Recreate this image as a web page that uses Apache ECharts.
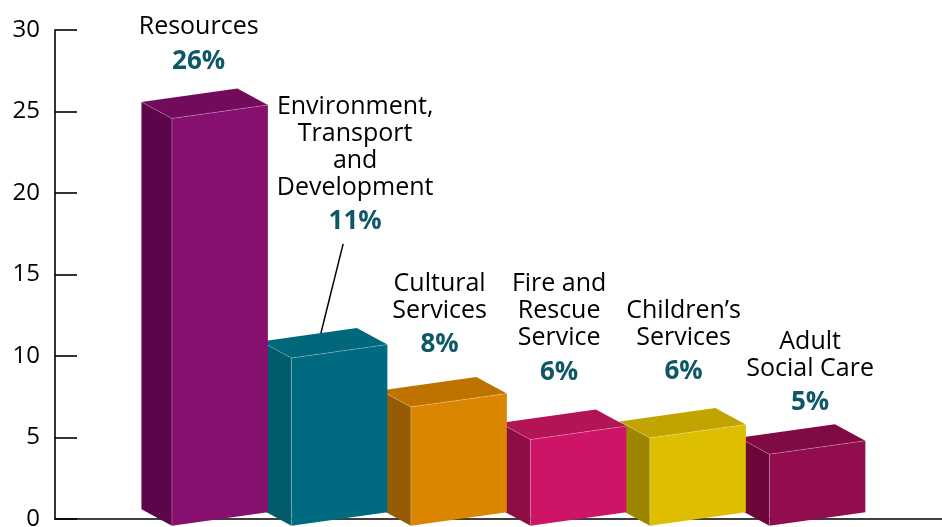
<!DOCTYPE html>
<html><head><meta charset="utf-8">
<script src="https://cdn.jsdelivr.net/npm/echarts@6/dist/echarts.min.js"></script>
<style>html,body{margin:0;padding:0;background:#fff}#c{width:942px;height:527px}</style>
</head><body><div id="c"></div>
<script>
// ---- data ----
const categories = ['Resources', 'Environment,\nTransport\nand\nDevelopment', 'Cultural\nServices', 'Fire and\nRescue\nService', 'Children\u2019s\nServices', 'Adult\nSocial Care'];
const values = [26.0, 11.3, 8.3, 6.3, 6.4, 5.4];
const yTicks = [0, 5, 10, 15, 20, 25, 30];

// ---- styles ----
const frontColors = ['#870F6E', '#006B80', '#DB8600', '#CE1467', '#DDBE00', '#930D4E'];
const sideColors  = ['#5C054C', '#005C6D', '#975B05', '#8E0D45', '#9D8500', '#6C0638'];
const topColors   = ['#720B5C', '#00687A', '#BE7300', '#B21456', '#C1A400', '#800A44'];
const labelLift   = [34, 113, 39, 44, 43, 28];   // px above bar top for the % label
const labelShiftX = [-6, 31, -4, -4, 1, 8];      // px shift of label from top-face centre
const leader      = [false, true, false, false, false, false];
const BAR_W = 0.803, SHEAR = 0.14, DEPTH_X = -30.5, DEPTH_Y = -16.5;
const PCT_COLOR = '#0E5866';

const chart = echarts.init(document.getElementById('c'));
const n = categories.length;

chart.setOption({
  animation: false,
  grid: { left: 55, right: 0, top: 30, bottom: 8, containLabel: false, outerBoundsMode: 'none' },
  xAxis: {
    type: 'value', min: -1.380, max: 6.043,
    axisLine: { show: true, onZero: false, lineStyle: { color: '#000', width: 1.6 } },
    axisTick: { show: false }, axisLabel: { show: false }, splitLine: { show: false }
  },
  yAxis: {
    type: 'value', min: yTicks[0], max: yTicks[yTicks.length - 1], interval: yTicks[1] - yTicks[0],
    axisLine: { show: true, onZero: false, lineStyle: { color: '#000', width: 1.6 } },
    axisTick: { show: true, inside: true, length: 22, lineStyle: { color: '#000', width: 1.6 } },
    axisLabel: { color: '#000', fontSize: 24, fontFamily: 'Open Sans', margin: 15 },
    splitLine: { show: false }
  },
  series: [{
    type: 'custom',
    clip: false,
    data: values.map((v, i) => [i, v]),
    renderItem(params, api) {
      const i = api.value(0), v = api.value(1);
      const base = api.coord([i, 0]);
      const tp = api.coord([i, v]);
      const cx = base[0], y0 = base[1], yv = tp[1];
      const hw = api.size([BAR_W, 0])[0] / 2;
      const s = SHEAR, dx = DEPTH_X, dy = DEPTH_Y;
      const yt = yv - dy;
      const FLt = [cx - hw, yt + hw * s], FRt = [cx + hw, yt - hw * s];
      const FRb = [cx + hw, y0 - hw * s], FLb = [cx - hw, y0 + hw * s];
      const b = p => [p[0] + dx, p[1] + dy];
      const zb = (n - i) * 10;
      const children = [
        { type: 'polygon', z2: zb, shape: { points: [b(FLt), FLt, FLb, b(FLb)] }, style: { fill: sideColors[i] } },
        { type: 'polygon', z2: zb + 1, shape: { points: [FLt, FRt, b(FRt), b(FLt)] }, style: { fill: topColors[i] } },
        { type: 'polygon', z2: zb + 2, shape: { points: [FLt, FRt, FRb, FLb] }, style: { fill: frontColors[i] } },
        { type: 'polyline', z2: zb + 3, shape: { points: [FLb, FLt, FRt] }, style: { stroke: 'rgba(255,255,255,0.3)', lineWidth: 0.8, fill: null } },
        { type: 'polyline', z2: zb + 3, shape: { points: [b(FLt), FLt] }, style: { stroke: 'rgba(255,255,255,0.25)', lineWidth: 0.8, fill: null } }
      ];
      // labels
      const px = cx + dx / 2 + labelShiftX[i];
      const py = yv - labelLift[i];
      children.push({
        type: 'text', z2: 1000,
        style: { text: categories[i], x: px, y: py - 34 + 13.5, align: 'center', verticalAlign: 'bottom',
                 fontSize: 25, fontFamily: 'Open Sans', lineHeight: 27, fill: '#000' }
      });
      children.push({
        type: 'text', z2: 1000,
        style: { text: Math.round(v) + '%', x: px, y: py, align: 'center', verticalAlign: 'middle',
                 fontSize: 26, fontWeight: 'bold', fontFamily: 'Open Sans', fill: PCT_COLOR }
      });
      if (leader[i]) {
        const bcx = cx + dx;
        children.push({
          type: 'line', z2: 999,
          shape: { x1: px - 12, y1: py + 22, x2: bcx + 12, y2: yv - 12 * s },
          style: { stroke: '#000', lineWidth: 1.5 }
        });
      }
      return { type: 'group', children };
    }
  }]
});
</script>
</body></html>
